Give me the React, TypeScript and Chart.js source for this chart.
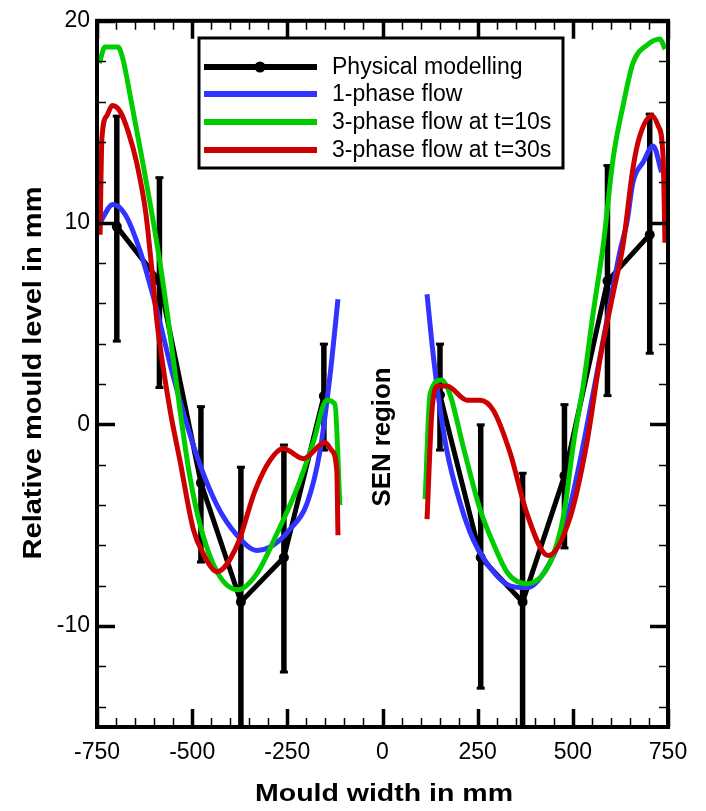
import React, { useEffect, useRef } from "react";
import { Chart, registerables } from "chart.js";

Chart.register(...registerables);

// ---------- DATA ----------
const xTicks = [-750, -500, -250, 0, 250, 500, 750];
const yTicks = [-10, 0, 10, 20];

const seriesNames = [
  "Physical modelling",
  "1-phase flow",
  "3-phase flow at t=10s",
  "3-phase flow at t=30s",
];

// Physical modelling (mean and error bar range)
const physX = [-698, -586, -477, -372, -259, -154, null, 151, 258, 368, 478, 591, 702];
const physY = [9.8, 7.1, -2.9, -8.8, -6.6, 1.4, null, 1.45, -6.6, -8.8, -2.55, 7.1, 9.4];
const physLow = [4.1, 1.8, -6.85, -15.5, -12.3, -1.3, null, -1.3, -13.1, -15.5, -6.15, 1.4, 3.5];
const physHigh = [15.3, 12.25, 0.9, -2.1, -1.0, 4.0, null, 4.0, 0.0, -2.4, 1.0, 12.85, 15.4];

// 1-phase flow
const blueX = [-742, -708, -676, -637, -592, -550, -487, -435, -382, -330, -288, -243, -198, -164, -138, -117, null,
  117, 130, 146, 169, 204, 238, 291, 335, 379, 440, 484, 519, 553, 589, 624, 642, 658, 685, 711, 733];
const blueY = [10.0, 10.9, 10.4, 8.6, 5.6, 2.4, -1.6, -4.0, -5.5, -6.25, -6.0, -5.2, -3.9, -1.3, 2.4, 6.2, null,
  6.45, 4.0, 1.5, -1.3, -3.9, -5.7, -7.3, -8.0, -8.1, -6.85, -4.7, -1.8, 1.5, 5.1, 8.6, 10.0, 12.0, 13.0, 13.8, 12.5];

// 3-phase flow at t=10s
const greenX = [-744, -729, -695, -682, -658, -632, -592, -566, -532, -506, -479, -435, -380, -330, -277, -225, -182, -146, -125, -112, null,
  112, 125, 155, 177, 212, 256, 291, 330, 379, 440, 476, 502, 528, 554, 580, 606, 632, 658, 695, 729, 742];
const greenY = [17.9, 18.7, 18.7, 18.1, 15.8, 13.2, 8.9, 5.6, 0.7, -2.6, -5.0, -7.3, -8.2, -7.4, -5.4, -3.2, -0.9, 1.2, 1.0, -4.0, null,
  -3.7, 1.5, 2.2, 1.5, -1.1, -4.2, -5.9, -7.4, -7.9, -6.85, -4.5, -0.9, 2.0, 5.6, 8.9, 13.2, 15.8, 17.9, 18.8, 19.1, 18.6];

// 3-phase flow at t=30s
const redX = [-742, -737, -724, -710, -689, -668, -645, -622, -605, -592, -558, -532, -497, -471, -435, -382, -335, -296, -261, -208, -151, -133, -120, -117, null,
  117, 130, 146, 169, 222, 256, 291, 335, 379, 435, 493, 537, 571, 606, 632, 658, 676, 708, 724, 737, 742];
const redY = [9.4, 14.2, 15.3, 15.8, 15.5, 14.5, 12.9, 10.5, 7.5, 5.0, 0.7, -1.8, -5.2, -6.4, -7.3, -6.0, -3.3, -1.8, -1.2, -1.7, -0.9, -1.3, -2.3, -5.5, null,
  -4.7, 0.7, 1.9, 1.9, 1.2, 1.2, 0.7, -1.4, -4.4, -6.5, -4.6, -0.9, 3.2, 6.5, 8.9, 12.7, 14.3, 15.3, 14.8, 13.3, 9.0];

// ---------- STYLE ----------
const BLACK = "#000000";
const BLUE = "#3333ff";
const GREEN = "#00cc00";
const RED = "#cc0000";
const FONT = "'Liberation Sans', Arial, Helvetica, sans-serif";

const toPts = (xs: (number | null)[], ys: (number | null)[]) =>
  xs.map((x, i) => ({ x: x === null ? 0 : x, y: ys[i] }));

const decorPlugin = {
  id: "decor",
  beforeDatasetsDraw(chart: any) {
    const { ctx, chartArea: a, scales } = chart;
    const xs = scales.x, ys = scales.y;
    ctx.save();
    ctx.beginPath();
    ctx.rect(a.left, a.top, a.right - a.left, a.bottom - a.top);
    ctx.clip();
    ctx.strokeStyle = BLACK;
    ctx.fillStyle = BLACK;
    ctx.lineWidth = 5.5;
    ctx.lineCap = "butt";
    physX.forEach((xv, i) => {
      if (xv === null) return;
      const px = xs.getPixelForValue(xv);
      const pLo = ys.getPixelForValue(physLow[i] as number);
      const pHi = ys.getPixelForValue(physHigh[i] as number);
      ctx.beginPath();
      ctx.moveTo(px, pLo);
      ctx.lineTo(px, pHi);
      ctx.stroke();
      ctx.fillRect(px - 4, pHi - 1, 8, 3);
      ctx.fillRect(px - 4, pLo - 2, 8, 3);
    });
    ctx.restore();
  },
  afterDraw(chart: any) {
    const { ctx, chartArea: a, scales } = chart;
    const xs = scales.x, ys = scales.y;
    ctx.save();
    ctx.strokeStyle = BLACK;
    ctx.fillStyle = BLACK;
    // ticks
    for (let v = -750; v <= 750; v += 50) {
      const major = v % 250 === 0;
      const px = Math.round(xs.getPixelForValue(v)) + 0.5;
      const len = major ? 18 : 9;
      ctx.lineWidth = major ? 3.5 : 1.5;
      ctx.beginPath();
      ctx.moveTo(px, a.bottom);
      ctx.lineTo(px, a.bottom - len);
      ctx.moveTo(px, a.top);
      ctx.lineTo(px, a.top + len);
      ctx.stroke();
    }
    for (let v = -14; v <= 20; v += 2) {
      const major = v % 10 === 0;
      const py = Math.round(ys.getPixelForValue(v)) + 0.5;
      const len = major ? 18 : 9;
      ctx.lineWidth = major ? 3.5 : 1.5;
      ctx.beginPath();
      ctx.moveTo(a.left, py);
      ctx.lineTo(a.left + len, py);
      ctx.moveTo(a.right, py);
      ctx.lineTo(a.right - len, py);
      ctx.stroke();
    }
    // frame
    ctx.lineWidth = 4;
    ctx.strokeRect(a.left, a.top, a.right - a.left, a.bottom - a.top);

    // legend
    const lx = 199, ly = 38, lw = 364, lh = 130;
    ctx.fillStyle = "#ffffff";
    ctx.fillRect(lx, ly, lw, lh);
    ctx.lineWidth = 3;
    ctx.strokeStyle = BLACK;
    ctx.strokeRect(lx, ly, lw, lh);
    const colors = [BLACK, BLUE, GREEN, RED];
    const rowY = [67, 94, 122, 150];
    ctx.font = `23px ${FONT}`;
    ctx.textBaseline = "middle";
    ctx.textAlign = "left";
    seriesNames.forEach((name, i) => {
      ctx.strokeStyle = colors[i];
      ctx.lineWidth = 6;
      ctx.lineCap = "butt";
      ctx.beginPath();
      ctx.moveTo(204, rowY[i]);
      ctx.lineTo(317, rowY[i]);
      ctx.stroke();
      if (i === 0) {
        ctx.fillStyle = BLACK;
        ctx.beginPath();
        ctx.arc(260, rowY[i], 5.5, 0, Math.PI * 2);
        ctx.fill();
      }
      ctx.fillStyle = BLACK;
      ctx.fillText(name, 332, rowY[i] + 1);
    });

    // titles
    const drawStretched = (text: string, cx: number, cy: number, size: number, targetW: number, rot: number) => {
      ctx.save();
      ctx.font = `bold ${size}px ${FONT}`;
      const w = ctx.measureText(text).width;
      ctx.translate(cx, cy);
      ctx.rotate(rot);
      ctx.scale(targetW / w, 1);
      ctx.textAlign = "center";
      ctx.textBaseline = "middle";
      ctx.fillStyle = BLACK;
      ctx.fillText(text, 0, 0);
      ctx.restore();
    };
    drawStretched("Mould width in mm", 384, 794, 24, 258, 0);
    drawStretched("Relative mould level in mm", 34, 373, 25, 373, -Math.PI / 2);
    drawStretched("SEN region", 383, 437, 25, 139, -Math.PI / 2);
    ctx.restore();
  },
};

export default function App() {
  const ref = useRef<HTMLCanvasElement | null>(null);
  useEffect(() => {
    if (!ref.current) return;
    const lineDs = (label: string, xs: any[], ys: any[], color: string, order: number) => ({
      label,
      data: toPts(xs, ys),
      borderColor: color,
      backgroundColor: color,
      borderWidth: 5,
      pointRadius: 0,
      cubicInterpolationMode: "monotone" as const,
      spanGaps: false,
      order,
      borderJoinStyle: "round" as const,
    });
    const chart = new Chart(ref.current, {
      type: "line",
      data: {
        datasets: [
          {
            label: seriesNames[0],
            data: toPts(physX, physY),
            borderColor: BLACK,
            backgroundColor: BLACK,
            borderWidth: 5,
            pointRadius: 5,
            pointBorderWidth: 0,
            tension: 0,
            spanGaps: false,
            order: 3,
          },
          lineDs(seriesNames[1], blueX, blueY, BLUE, 2),
          lineDs(seriesNames[2], greenX, greenY, GREEN, 1),
          lineDs(seriesNames[3], redX, redY, RED, 0),
        ],
      },
      options: {
        animation: false,
        responsive: false,
        devicePixelRatio: 1,
        layout: { padding: { left: 0, right: 38, top: 15, bottom: 0 } },
        plugins: { legend: { display: false }, tooltip: { enabled: false } },
        scales: {
          x: {
            type: "linear",
            min: -750,
            max: 750,
            grid: { display: false, drawTicks: false },
            border: { display: false },
            afterBuildTicks: (s: any) => {
              s.ticks = xTicks.map((v) => ({ value: v }));
            },
            afterFit: (s: any) => {
              s.height = 84;
            },
            ticks: {
              padding: 12,
              maxRotation: 0,
              color: BLACK,
              font: { family: FONT, size: 23 },
            },
          },
          y: {
            type: "linear",
            min: -15,
            max: 20,
            grid: { display: false, drawTicks: false },
            border: { display: false },
            afterBuildTicks: (s: any) => {
              s.ticks = yTicks.map((v) => ({ value: v }));
            },
            afterFit: (s: any) => {
              s.width = 97;
            },
            ticks: {
              padding: 7,
              color: BLACK,
              font: { family: FONT, size: 23 },
            },
          },
        },
      },
      plugins: [decorPlugin],
    });
    return () => chart.destroy();
  }, []);
  return (
    <div style={{ position: "absolute", left: 0, top: 0, width: 706, height: 811, background: "#fff" }}>
      <canvas ref={ref} width={706} height={811} style={{ width: 706, height: 811, display: "block" }} />
    </div>
  );
}
